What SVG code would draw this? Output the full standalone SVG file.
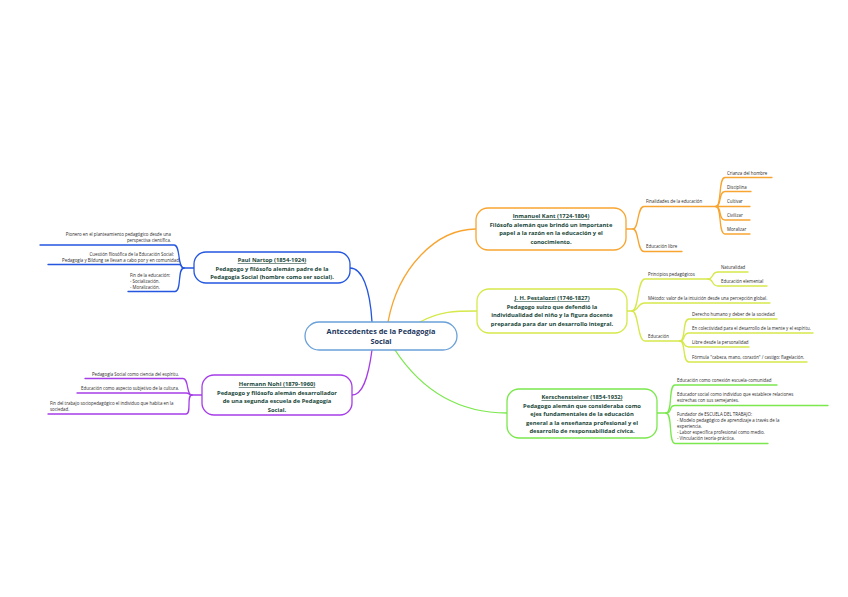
<svg xmlns="http://www.w3.org/2000/svg" width="848" height="597" viewBox="0 0 848 597">
<style>
.bg{fill:#ffffff}
.node{fill:#ffffff;stroke-width:1.3}
.nt{font-family:"Open Sans","Noto Sans",sans-serif;font-weight:bold;font-size:5.8px;fill:#20473a;text-anchor:middle}
.ct{font-family:"Open Sans","Noto Sans",sans-serif;font-weight:bold;font-size:7.3px;fill:#1b365d;text-anchor:middle}
.lt{font-family:"Open Sans","Noto Sans",sans-serif;font-size:4.4px;fill:#2a2a2a}
.end{text-anchor:end}
.ln{fill:none;stroke-width:1.3;stroke-linecap:round}
.o{stroke:#f7a530}.y{stroke:#d6e84a}.g{stroke:#7be84d}.b{stroke:#2456e0}.p{stroke:#a53ee8}
</style>
<rect class="bg" x="0" y="0" width="848" height="597"/>
<g id="connectors">
<path class="ln o" d="M388,322 C398,268 436,229 476,229"/>
<path class="ln y" d="M420,322 C440,311 455,311 477,311"/>
<path class="ln g" d="M395,350 C428,400 470,413 507,413"/>
<path class="ln b" d="M372,322 C370,288 362,268 350,268"/>
<path class="ln p" d="M372,350 C368,380 362,395 352,395"/>
<path class="ln o" d="M626,229 H633 C639,229 637,206.5 644,206.5 H716"/>
<path class="ln o" d="M633,229 C639,229 637,251.5 644,251.5 H682"/>
<path class="ln o" d="M716,206.5 C722,206.5 718,177.5 725,177.5 H772"/>
<path class="ln o" d="M716,206.5 C722,206.5 718,191.5 725,191.5 H751"/>
<path class="ln o" d="M716,206.5 H750"/>
<path class="ln o" d="M716,206.5 C722,206.5 718,220 725,220 H750"/>
<path class="ln o" d="M716,206.5 C722,206.5 718,234 725,234 H750"/>
<path class="ln y" d="M627,311 H632 C639,311 637,279 645,279 H708"/>
<path class="ln y" d="M632,311 C639,311 637,303 645,303 H770"/>
<path class="ln y" d="M632,311 C639,311 637,341 645,341 H680"/>
<path class="ln y" d="M708,279 C714,279 711,272 718,272 H748"/>
<path class="ln y" d="M708,279 C714,279 711,286 718,286 H767"/>
<path class="ln y" d="M680,341 C686,341 682,319 689,319 H777"/>
<path class="ln y" d="M680,341 C686,341 682,333 689,333 H813"/>
<path class="ln y" d="M680,341 C686,341 682,347 689,347 H749"/>
<path class="ln y" d="M680,341 C686,341 682,362 689,362 H807"/>
<path class="ln g" d="M657,413 H666 C673,413 668,385 675,385 H777"/>
<path class="ln g" d="M666,413 C673,413 668,405.5 675,405.5 H828"/>
<path class="ln g" d="M666,413 C673,413 668,443.5 675,443.5 H768"/>
<path class="ln b" d="M194,268 H184 C177,268 181,245 174,245 H40"/>
<path class="ln b" d="M184,268 C180,268 183,264.5 179,264.5 H48"/>
<path class="ln b" d="M184,268 C177,268 182,291.5 175,291.5 H128"/>
<path class="ln p" d="M202,395 H192 C186,395 189,378.5 183,378.5 H85"/>
<path class="ln p" d="M192,395 C188,395 190,393 186,393 H77"/>
<path class="ln p" d="M192,395 C186,395 192,414 186,414 H48"/>
</g>
<g id="center">
<rect class="node" x="305" y="322" width="152" height="28" rx="14" stroke="#6aa0d8"/>
<text class="ct" x="381" y="333.5">Antecedentes de la Pedagogía</text>
<text class="ct" x="381" y="343.5">Social</text>
</g>
<g id="kant">
<rect class="node" x="476" y="208" width="150" height="42" rx="12" stroke="#f7a530"/>
<text class="nt" x="551" y="218" text-decoration="underline">Inmanuel Kant (1724-1804)</text>
<text class="nt" x="551" y="226.5">Filósofo alemán que brindó un importante</text>
<text class="nt" x="551" y="235">papel a la razón en la educación y el</text>
<text class="nt" x="551" y="243.5">conocimiento.</text>
</g>
<g id="kant-fin"><text class="lt" x="646" y="203">Finalidades de la educación</text></g>
<g id="kant-libre"><text class="lt" x="646" y="248">Educación libre</text></g>
<g id="kant-crianza"><text class="lt" x="727" y="174.5">Crianza del hombre</text></g>
<g id="kant-disciplina"><text class="lt" x="727" y="188.5">Disciplina</text></g>
<g id="kant-cultivar"><text class="lt" x="727" y="203">Cultivar</text></g>
<g id="kant-civilizar"><text class="lt" x="727" y="217">Civilizar</text></g>
<g id="kant-moralizar"><text class="lt" x="727" y="231">Moralizar</text></g>
<g id="pestalozzi">
<rect class="node" x="477" y="289" width="150" height="44" rx="12" stroke="#d6e84a"/>
<text class="nt" x="552" y="300" text-decoration="underline">J. H. Pestalozzi (1746-1827)</text>
<text class="nt" x="552" y="308.5">Pedagogo suizo que defendió la</text>
<text class="nt" x="552" y="317">individualidad del niño y la figura docente</text>
<text class="nt" x="552" y="325.5">preparada para dar un desarrollo integral.</text>
</g>
<g id="pes-principios"><text class="lt" x="648" y="275.5">Principios pedagógicos</text></g>
<g id="pes-metodo"><text class="lt" x="648" y="299.5">Método: valor de la intuición desde una percepción global.</text></g>
<g id="pes-educacion"><text class="lt" x="648" y="337.5">Educación</text></g>
<g id="pes-naturalidad"><text class="lt" x="721" y="268.5">Naturalidad</text></g>
<g id="pes-elemental"><text class="lt" x="721" y="282.5">Educación elemental</text></g>
<g id="pes-derecho"><text class="lt" x="692" y="315.5">Derecho humano y deber de la sociedad</text></g>
<g id="pes-colectividad"><text class="lt" x="692" y="329.5">En colectividad para el desarrollo de la mente y el espíritu.</text></g>
<g id="pes-libre"><text class="lt" x="692" y="343.5">Libre desde la personalidad</text></g>
<g id="pes-formula"><text class="lt" x="692" y="358.5">Fórmula "cabeza, mano, corazón" / castigo: flagelación.</text></g>
<g id="kerschensteiner">
<rect class="node" x="507" y="389" width="150" height="49" rx="12" stroke="#7be84d"/>
<text class="nt" x="582" y="399" text-decoration="underline">Kerschensteiner (1854-1932)</text>
<text class="nt" x="582" y="407.5">Pedagogo alemán que consideraba como</text>
<text class="nt" x="582" y="416">ejes fundamentales de la educación</text>
<text class="nt" x="582" y="424.5">general a la enseñanza profesional y el</text>
<text class="nt" x="582" y="433">desarrollo de responsabilidad cívica.</text>
</g>
<g id="ker-conexion"><text class="lt" x="677" y="381.5">Educación como conexión escuela-comunidad</text></g>
<g id="ker-educador"><text class="lt" x="677" y="395.5">Educador social como individuo que establece relaciones</text><text class="lt" x="677" y="402">estrechas con sus semejantes.</text></g>
<g id="ker-fundador"><text class="lt" x="677" y="415.5">Fundador de ESCUELA DEL TRABAJO:</text><text class="lt" x="677" y="421.7">- Modelo pedagógico de aprendizaje a través de la</text><text class="lt" x="677" y="427.9">experiencia.</text><text class="lt" x="677" y="434.1">- Labor específica profesional como medio.</text><text class="lt" x="677" y="440.3">- Vinculación teoría-práctica.</text></g>
<g id="natorp">
<rect class="node" x="194" y="252" width="156" height="31" rx="12" stroke="#2456e0"/>
<text class="nt" x="272" y="262" text-decoration="underline">Paul Nartop (1854-1924)</text>
<text class="nt" x="272" y="270.5">Pedagogo y filósofo alemán padre de la</text>
<text class="nt" x="272" y="279">Pedagogía Social (hombre como ser social).</text>
</g>
<g id="nat-pionero"><text class="lt end" x="171" y="235.5">Pionero en el planteamiento pedagógico desde una</text><text class="lt end" x="171" y="242">perspectiva científica.</text></g>
<g id="nat-cuestion"><text class="lt end" x="174" y="255.5">Cuestión filosófica de la Educación Social:</text><text class="lt end" x="180" y="261.5">Pedagogía y Bildung se llevan a cabo por y en comunidad.</text></g>
<g id="nat-fin"><text class="lt" x="130" y="276.5">Fin de la educación:</text><text class="lt" x="130" y="282.5">- Socialización.</text><text class="lt" x="130" y="288.5">- Moralización.</text></g>
<g id="nohl">
<rect class="node" x="202" y="375" width="150" height="40" rx="12" stroke="#a53ee8"/>
<text class="nt" x="277" y="386" text-decoration="underline">Hermann Nohl (1879-1960)</text>
<text class="nt" x="277" y="394.5">Pedagogo y filósofo alemán desarrollador</text>
<text class="nt" x="277" y="403">de una segunda escuela de Pedagogía</text>
<text class="nt" x="277" y="411.5">Social.</text>
</g>
<g id="nohl-espiritu"><text class="lt end" x="179" y="375.5">Pedagogía Social como ciencia del espíritu.</text></g>
<g id="nohl-cultura"><text class="lt end" x="179" y="389.5">Educación como aspecto subjetivo de la cultura.</text></g>
<g id="nohl-fin"><text class="lt" x="50" y="404.5">Fin del trabajo sociopedagógico el individuo que habita en la</text><text class="lt" x="50" y="410.5">sociedad.</text></g>
</svg>
